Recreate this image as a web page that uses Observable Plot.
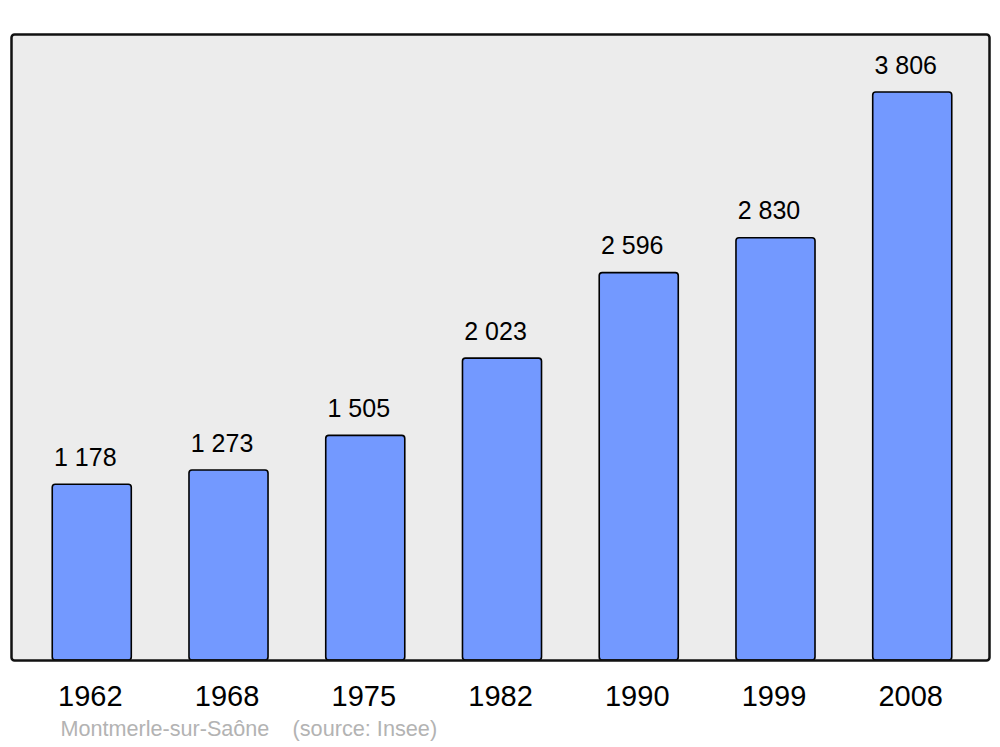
<!DOCTYPE html>
<html>
<head>
<meta charset="utf-8">
<script src="https://cdn.jsdelivr.net/npm/d3@7"></script>
<script src="https://cdn.jsdelivr.net/npm/@observablehq/plot@0.6"></script>
<style>
  html, body { margin: 0; padding: 0; background: #ffffff; }
  svg { display: block; }
</style>
</head>
<body>
<div id="chart"></div>
<script>
const years = ["1962", "1968", "1975", "1982", "1990", "1999", "2008"];
const population = [1178, 1273, 1505, 2023, 2596, 2830, 3806];
const captionPlace = "Montmerle-sur-Saône";
const captionSource = "(source: Insee)";

const data = years.map((y, i) => ({year: y, pop: population[i]}));
const fr = d3.formatLocale({thousands: " ", grouping: [3], decimal: ",", currency: ["", ""]}).format(",d");

const chart = Plot.plot({
  width: 1000,
  height: 747,
  marginLeft: 11,
  marginRight: 11,
  marginTop: 34,
  marginBottom: 87,
  style: {fontFamily: "'Liberation Sans', Arial, sans-serif", background: "#ffffff", color: "#000"},
  x: {domain: years, range: [13, 991], paddingInner: 0.422, paddingOuter: 0.287, round: false, label: null},
  y: {domain: [0, 4195], axis: null},
  marks: [
    Plot.frame({fill: "#ececec", stroke: "none"}),
    Plot.barY(data, {x: "year", y: "pop", fill: "#7399ff", stroke: "#000", strokeWidth: 1.6, rx: 3}),
    Plot.text(data, {x: "year", y: "pop", text: d => fr(d.pop), dy: -27, dx: -7, fontSize: 25, fill: "#000"}),
    Plot.axisX({tickSize: 0, tickPadding: 25, fontSize: 29, dx: -2, fill: "#000"}),
    Plot.frame({stroke: "#111", strokeWidth: 2.5, rx: 3, fill: "none"}),
    Plot.text([captionPlace], {frameAnchor: "bottom-left", text: d => d, textAnchor: "start", dx: 49, dy: 75.5, fontSize: 21.6, fill: "#b3b3b3"}),
    Plot.text([captionSource], {frameAnchor: "bottom-left", text: d => d, textAnchor: "start", dx: 281, dy: 75.5, fontSize: 21.7, fill: "#b3b3b3"})
  ]
});
document.getElementById("chart").appendChild(chart);
</script>
</body>
</html>
